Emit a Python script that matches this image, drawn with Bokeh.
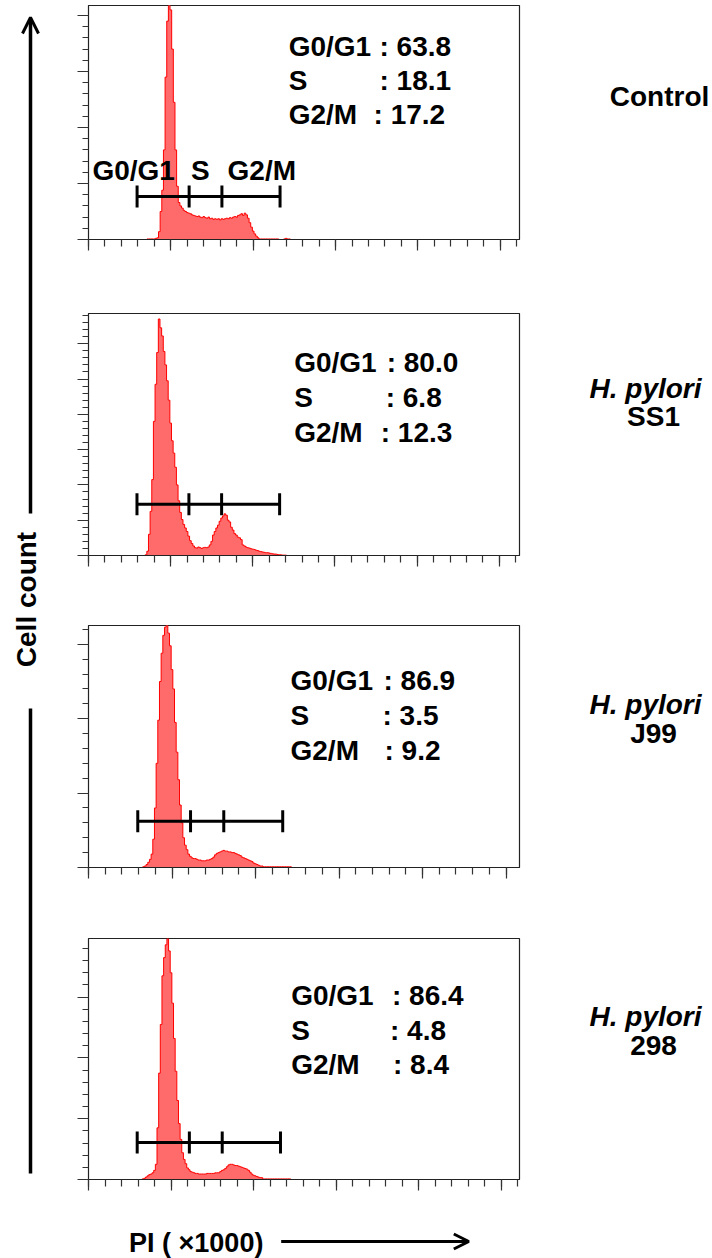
import numpy as np
from bokeh.plotting import figure
from bokeh.models import Range1d, SingleIntervalTicker, Label, Arrow, OpenHead, ColumnDataSource
from bokeh.layouts import row, column
from bokeh.embed import file_html
from bokeh.resources import INLINE

# ---------------- data ----------------
pi_channel = list(range(30, 126))  # PI (x1000), bin centres

control_counts = [0, 0, 0, 0, 0, 0, 1, 1, 1, 1, 1, 2, 3, 14, 50, 88, 160, 290, 390, 470,
                  410, 340, 245, 160, 95, 66, 60, 56, 52, 50, 48, 47, 46, 44, 43, 42, 41, 42, 40, 39,
                  41, 39, 38, 40, 37, 38, 36, 37, 36, 37, 35, 37, 36, 37, 38, 37, 39, 38, 40, 41,
                  40, 43, 44, 46, 43, 47, 44, 38, 30, 22, 15, 10, 6, 3, 1, 1, 1, 1, 1, 1,
                  1, 1, 1, 1, 1, 1, 0, 0, 0, 1, 2, 1, 1, 0, 0, 0]
ss1_counts = [0, 0, 0, 0, 0, 2, 12, 60, 125, 215, 380, 485, 575, 670, 645, 622, 578, 540, 495, 440,
              375, 325, 290, 250, 200, 155, 122, 102, 88, 78, 68, 55, 42, 34, 27, 22, 21, 24, 22, 20,
              22, 23, 22, 24, 30, 40, 58, 68, 78, 86, 97, 106, 112, 118, 114, 100, 95, 80, 72, 62,
              58, 52, 50, 45, 30, 27, 24, 22, 21, 19, 18, 17, 15, 14, 12, 11, 10, 9, 8, 8,
              7, 6, 5, 4, 4, 3, 2, 2, 1, 1, 1, 0, 0, 0, 0, 0]
j99_counts = [0, 0, 0, 1, 2, 4, 7, 11, 18, 38, 80, 140, 198, 250, 288, 312, 323, 326, 315, 298,
              266, 240, 195, 155, 118, 84, 60, 40, 30, 24, 18, 15, 13, 12, 12, 11, 10, 10, 9, 9,
              9, 10, 10, 11, 12, 14, 17, 19, 20, 21, 22, 23, 22, 22, 21, 21, 20, 20, 19, 18,
              17, 16, 14, 13, 12, 11, 10, 9, 8, 6, 5, 4, 3, 2, 2, 1, 1, 1, 1, 1,
              1, 1, 1, 1, 1, 1, 1, 1, 1, 1, 1, 1, 0, 0, 0, 0]
s298_counts = [0, 0, 0, 1, 2, 4, 6, 8, 9, 11, 15, 25, 85, 175, 255, 335, 365, 386, 396, 376,
               340, 290, 232, 178, 130, 92, 66, 44, 33, 26, 19, 16, 13, 12, 11, 10, 10, 9, 9, 9,
               9, 9, 10, 10, 10, 10, 10, 11, 11, 11, 13, 15, 16, 18, 21, 24, 25, 25, 24, 23,
               23, 22, 21, 20, 19, 18, 17, 15, 12, 9, 7, 6, 5, 4, 3, 3, 1, 1, 1, 1,
               1, 1, 1, 1, 1, 1, 1, 1, 1, 1, 1, 1, 1, 0, 0, 0]

g0g1_pct = [63.8, 80.0, 86.9, 86.4]
s_pct = [18.1, 6.8, 3.5, 4.8]
g2m_pct = [17.2, 12.3, 9.2, 8.4]
phase_names = ["G0/G1", "S", "G2/M"]
gate_edges = [29.5, 61.1, 81.0, 116.3]          # PI (x1000)
gate_levels = [77, 145, 62, 61]                  # counts
cond_line1 = ["Control", "H. pylori", "H. pylori", "H. pylori"]
cond_line2 = ["", "SS1", "J99", "298"]
all_counts = [control_counts, ss1_counts, j99_counts, s298_counts]

# ---------------- layout geometry (layout pixels, origin top-left) ----------------
FONT = "Liberation Sans"
FS = "28px"
INK = "black"
TOTAL_W, TOTAL_H = 712, 1258
LEFT_W = 50
COL_X0, COL_X1 = LEFT_W, 560
FRAME_LEFT = 88
PX_PER_UNIT = 83.5 / 50.0
BOTTOM_Y0 = 1200
YC = 1.0  # cap-centre to em-middle correction (px)

panels = [
    dict(ftop=5, fbot=239, fright=525, top=0, bot=276, pxmaj=56.0,
         lx=291, cx=[385, 385, 379], rows=[44.5, 79.2, 112.7]),
    dict(ftop=313, fbot=555, fright=526, top=276, bot=590, pxmaj=35.3,
         lx=297, cx=[393, 392, 387], rows=[361.2, 396.2, 431.2]),
    dict(ftop=625, fbot=867, fright=519, top=590, bot=902, pxmaj=74.4,
         lx=290, cx=[385, 384, 386], rows=[679.2, 714.2, 749.2]),
    dict(ftop=938, fbot=1179, fright=524, top=902, bot=BOTTOM_Y0, pxmaj=60.8,
         lx=293, cx=[397, 395, 398], rows=[994.2, 1029.2, 1063.3]),
]

figs = []
for i, g in enumerate(panels):
    xend = (g["fright"] - FRAME_LEFT) / PX_PER_UNIT
    ytop = (g["fbot"] - g["ftop"]) / g["pxmaj"] * 100.0
    p = figure(width=COL_X1 - COL_X0, height=g["bot"] - g["top"],
               x_range=Range1d(0, xend), y_range=Range1d(0, ytop),
               output_backend="svg", toolbar_location=None,
               min_border_left=FRAME_LEFT - COL_X0, min_border_right=COL_X1 - g["fright"],
               min_border_top=g["ftop"] - g["top"], min_border_bottom=g["bot"] - g["fbot"])
    p.grid.visible = False
    p.outline_line_color = "#222222"
    p.outline_line_width = 1.2
    p.xaxis.ticker = SingleIntervalTicker(interval=50, num_minor_ticks=5)
    p.yaxis.ticker = SingleIntervalTicker(interval=100, num_minor_ticks=5)
    for ax in (p.xaxis, p.yaxis):
        ax.major_label_text_font_size = "0px"
        ax.major_label_text_color = None
        ax.major_label_standoff = 0
        ax.major_tick_in = 0
        ax.minor_tick_in = 0
        ax.axis_line_color = "#222222"
        ax.major_tick_line_color = "#333333"
        ax.minor_tick_line_color = "#333333"
        ax.major_tick_line_width = 1.2
        ax.minor_tick_line_width = 1.2
    p.xaxis.major_tick_out = 11
    p.xaxis.minor_tick_out = 7
    p.yaxis.major_tick_out = 11
    p.yaxis.minor_tick_out = 6

    src = ColumnDataSource(dict(x=pi_channel, y=all_counts[i]))
    p.varea_step(x="x", y1=0, y2="y", step_mode="center", source=src, fill_color="#ff6b6b")
    p.step(x="x", y="y", mode="center", source=src, line_color="#ff0000", line_width=1)

    # gate bar
    lvl = gate_levels[i]
    p.segment(x0=[gate_edges[0]], y0=[lvl], x1=[gate_edges[-1]], y1=[lvl],
              line_color="black", line_width=3)
    p.scatter(x=gate_edges, y=[lvl] * len(gate_edges), marker="dash", size=22,
              angle=np.pi / 2, line_color="black", line_width=3)

    def dx(px):
        return (px - FRAME_LEFT) / PX_PER_UNIT

    def dy(py, g=g):
        return (g["fbot"] - py) / g["pxmaj"] * 100.0

    vals = [g0g1_pct[i], s_pct[i], g2m_pct[i]]
    for k in range(3):
        yc = g["rows"][k] + YC
        p.add_layout(Label(x=dx(g["lx"]), y=dy(yc), text=phase_names[k],
                           text_font=FONT, text_font_size=FS, text_font_style="bold",
                           text_baseline="middle", text_align="left", text_color=INK))
        p.add_layout(Label(x=dx(g["cx"][k] - 2), y=dy(yc), text=": %.1f" % vals[k],
                           text_font=FONT, text_font_size=FS, text_font_style="bold",
                           text_baseline="middle", text_align="left", text_color=INK))
    if i == 0:
        for name, lx in zip(phase_names, [92, 192, 229]):
            p.add_layout(Label(x=dx(lx), y=dy(169 + YC), text=name,
                               text_font=FONT, text_font_size=FS, text_font_style="bold",
                               text_baseline="middle", text_align="left", text_color=INK))
    figs.append(p)

# bottom strip with x-axis title
pb = figure(width=COL_X1 - COL_X0, height=TOTAL_H - BOTTOM_Y0,
            x_range=Range1d(COL_X0, COL_X1), y_range=Range1d(TOTAL_H, BOTTOM_Y0),
            x_axis_type=None, y_axis_type=None, output_backend="svg", toolbar_location=None,
            min_border=0)
pb.grid.visible = False
pb.outline_line_color = None
pb.add_layout(Label(x=98, y=1241 + YC, text="PI ( \u00d71000)", text_font=FONT, text_font_size="27px",
                    text_font_style="bold", text_baseline="middle", text_align="left",
                    text_color=INK))
pb.add_layout(Arrow(x_start=278, y_start=1241, x_end=500, y_end=1241, line_width=3,
                    line_color=INK, end=OpenHead(size=15, line_width=3, line_color=INK)))

# left strip with y-axis title
pl = figure(width=LEFT_W, height=TOTAL_H,
            x_range=Range1d(0, LEFT_W), y_range=Range1d(TOTAL_H, 0),
            x_axis_type=None, y_axis_type=None, output_backend="svg", toolbar_location=None,
            min_border=0)
pl.grid.visible = False
pl.outline_line_color = None
pl.add_layout(Arrow(x_start=30, y_start=513, x_end=30, y_end=17, line_width=3.5,
                    line_color=INK, end=OpenHead(size=16, line_width=3, line_color=INK)))
pl.segment(x0=[30], y0=[708], x1=[30], y1=[1173], line_width=3.5, line_color=INK)
pl.add_layout(Label(x=26, y=599, text="Cell count", angle=np.pi / 2, text_font=FONT,
                    text_font_size=FS, text_font_style="bold", text_align="center",
                    text_baseline="middle", text_color=INK))

# right strip with condition labels
pr = figure(width=TOTAL_W - COL_X1, height=TOTAL_H,
            x_range=Range1d(COL_X1, TOTAL_W), y_range=Range1d(TOTAL_H, 0),
            x_axis_type=None, y_axis_type=None, output_backend="svg", toolbar_location=None,
            min_border=0)
pr.grid.visible = False
pr.outline_line_color = None
label_rows = [(95, None), (387, 415), (703, 732), (1015, 1044)]
label_x1 = [659, 645, 645, 645]
for i, (y1, y2) in enumerate(label_rows):
    style1 = "bold" if i == 0 else "bold italic"
    pr.add_layout(Label(x=label_x1[i], y=y1 + YC, text=cond_line1[i], text_font=FONT,
                        text_font_size=FS, text_font_style=style1, text_align="center",
                        text_baseline="middle", text_color=INK))
    if y2 is not None:
        pr.add_layout(Label(x=653, y=y2 + YC, text=cond_line2[i], text_font=FONT,
                            text_font_size=FS, text_font_style="bold", text_align="center",
                            text_baseline="middle", text_color=INK))

layout = row(pl, column(*figs, pb), pr)
open("out.html", "w").write(file_html(layout, INLINE))
